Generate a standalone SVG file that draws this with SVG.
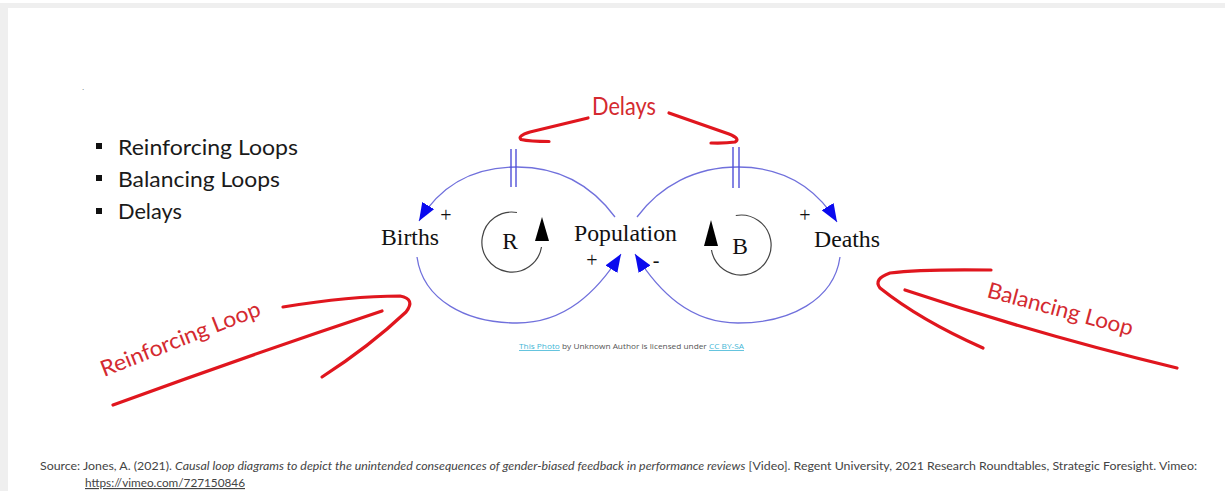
<svg xmlns="http://www.w3.org/2000/svg" width="1225" height="491" viewBox="0 0 1225 491">
<style>
.node{font-family:"Liberation Serif","Times New Roman",serif;font-size:23.5px;fill:#111}
.sign{font-family:"Liberation Serif","Times New Roman",serif;font-size:20px;fill:#111}
.link{fill:none;stroke:#7070dc;stroke-width:1.3}
.bar{stroke:#5050d8;stroke-width:1.4}
.loopc{fill:none;stroke:#444;stroke-width:1.2}
.red{fill:none;stroke:#e0161e;stroke-width:3.2;stroke-linecap:round;stroke-linejoin:round}
.redt{font-family:Lato,"Open Sans","Liberation Sans",sans-serif;fill:#d42a30}
.bul{font-family:Lato,"Open Sans","Liberation Sans",sans-serif;font-size:21px;fill:#1a1a1a}
.src{font-family:Lato,"Open Sans","Liberation Sans",sans-serif;font-size:11.5px;fill:#444}
</style>
<defs>
<marker id="ab" markerUnits="userSpaceOnUse" markerWidth="20" markerHeight="14" refX="18" refY="7" orient="auto">
<path d="M0,0 L18,7 L0,14 z" fill="#0a0aee"/>
</marker>
</defs>
<rect x="0" y="0" width="1225" height="491" fill="#ffffff"/>
<rect x="0" y="3" width="1225" height="5" fill="#efefef"/>
<rect x="0" y="3" width="8" height="488" fill="#efefef"/>

<g id="bullets">
<rect x="96" y="143" width="6" height="6" fill="#111"/>
<rect x="96" y="175" width="6" height="6" fill="#111"/>
<rect x="96" y="208" width="6" height="6" fill="#111"/>
<text class="bul" x="118" y="155" textLength="180" lengthAdjust="spacingAndGlyphs">Reinforcing Loops</text>
<text class="bul" x="118" y="187" textLength="162" lengthAdjust="spacingAndGlyphs">Balancing Loops</text>
<text class="bul" x="118" y="219" textLength="64" lengthAdjust="spacingAndGlyphs">Delays</text>
<text x="82" y="90" font-family="Liberation Sans,sans-serif" font-size="8" fill="#555">.</text>
</g>

<g id="connectors">
<path class="link" d="M615,217 C592,186 560,167 517,167 C472,167 440,186 419,221" marker-end="url(#ab)"/>
<path class="link" d="M417,257 C423,300 466,323 517,323 C565,323 597,292 621,254" marker-end="url(#ab)"/>
<path class="link" d="M637,217 C660,186 695,167 738,167 C783,167 815,186 837,222" marker-end="url(#ab)"/>
<path class="link" d="M840,257 C834,300 790,323 738,323 C690,323 659,292 635,254" marker-end="url(#ab)"/>
<line class="bar" x1="511" y1="149" x2="511" y2="187"/>
<line class="bar" x1="516" y1="149" x2="516" y2="187"/>
<line class="bar" x1="733" y1="147" x2="733" y2="188"/>
<line class="bar" x1="739" y1="147" x2="739" y2="188"/>
<text class="sign" x="446" y="222" text-anchor="middle">+</text>
<text class="sign" x="592" y="267" text-anchor="middle">+</text>
<text class="sign" x="656" y="267" text-anchor="middle">-</text>
<text class="sign" x="805" y="222" text-anchor="middle">+</text>
</g>

<g id="Births"><text class="node" x="381" y="245" textLength="58" lengthAdjust="spacingAndGlyphs">Births</text></g>
<g id="Population"><text class="node" x="574" y="241" textLength="103" lengthAdjust="spacingAndGlyphs">Population</text></g>
<g id="Deaths"><text class="node" x="814" y="247" textLength="66" lengthAdjust="spacingAndGlyphs">Deaths</text></g>

<g id="loopR">
<path class="loopc" d="M517,212.5 A30,30 0 1 0 541.5,247"/>
<path d="M542,217 L535,241 L549,241 z" fill="#000"/>
<text class="node" x="510" y="249" text-anchor="middle" font-size="22">R</text>
</g>
<g id="loopB">
<path class="loopc" d="M735.8,215.5 A30,30 0 1 1 711.5,250"/>
<path d="M711,220 L704,246 L718,246 z" fill="#000"/>
<text class="node" x="740" y="254" text-anchor="middle" font-size="22">B</text>
</g>

<g id="credit">
<text x="519" y="349" font-family="Open Sans,Liberation Sans,sans-serif" font-size="8" fill="#555" textLength="225" lengthAdjust="spacingAndGlyphs"><tspan fill="#3fb6d6" text-decoration="underline">This Photo</tspan> by Unknown Author is licensed under <tspan fill="#3fb6d6" text-decoration="underline">CC BY-SA</tspan></text>
</g>

<g id="delays-annotation">
<text class="redt" x="592" y="115" font-size="25" textLength="64" lengthAdjust="spacingAndGlyphs">Delays</text>
<path class="red" d="M588,118 L530,132 Q517,136 521,139.5 Q530,141.5 549,141.5"/>
<path class="red" d="M669,113 L729,134 Q741,139 735,142 Q725,143.5 711,143"/>
</g>

<g id="reinforcing-annotation">
<path class="red" d="M113,405 Q250,355 382,311"/>
<path class="red" d="M283,307 Q350,296 400,296 Q416,299 406,312 Q370,346 322,377"/>
<text class="redt" x="104" y="377" font-size="22" transform="rotate(-21.5 104 377)" textLength="170" lengthAdjust="spacingAndGlyphs">Reinforcing Loop</text>
</g>

<g id="balancing-annotation">
<path class="red" d="M991,270 Q920,269 890,273 Q873,279 880,288 Q920,320 983,348"/>
<path class="red" d="M905,290 Q1040,335 1177,368"/>
<text class="redt" x="986" y="297" font-size="22" transform="rotate(15 986 297)" textLength="150" lengthAdjust="spacingAndGlyphs">Balancing Loop</text>
</g>

<g id="source">
<text class="src" x="40" y="470" textLength="1157" lengthAdjust="spacingAndGlyphs">Source: Jones, A. (2021). <tspan font-style="italic">Causal loop diagrams to depict the unintended consequences of gender-biased feedback in performance reviews</tspan> [Video]. Regent University, 2021 Research Roundtables, Strategic Foresight. Vimeo:</text>
<text class="src" x="85" y="487" fill="#3fb6d6" text-decoration="underline" textLength="160" lengthAdjust="spacingAndGlyphs">https://vimeo.com/727150846</text>
</g>
</svg>
